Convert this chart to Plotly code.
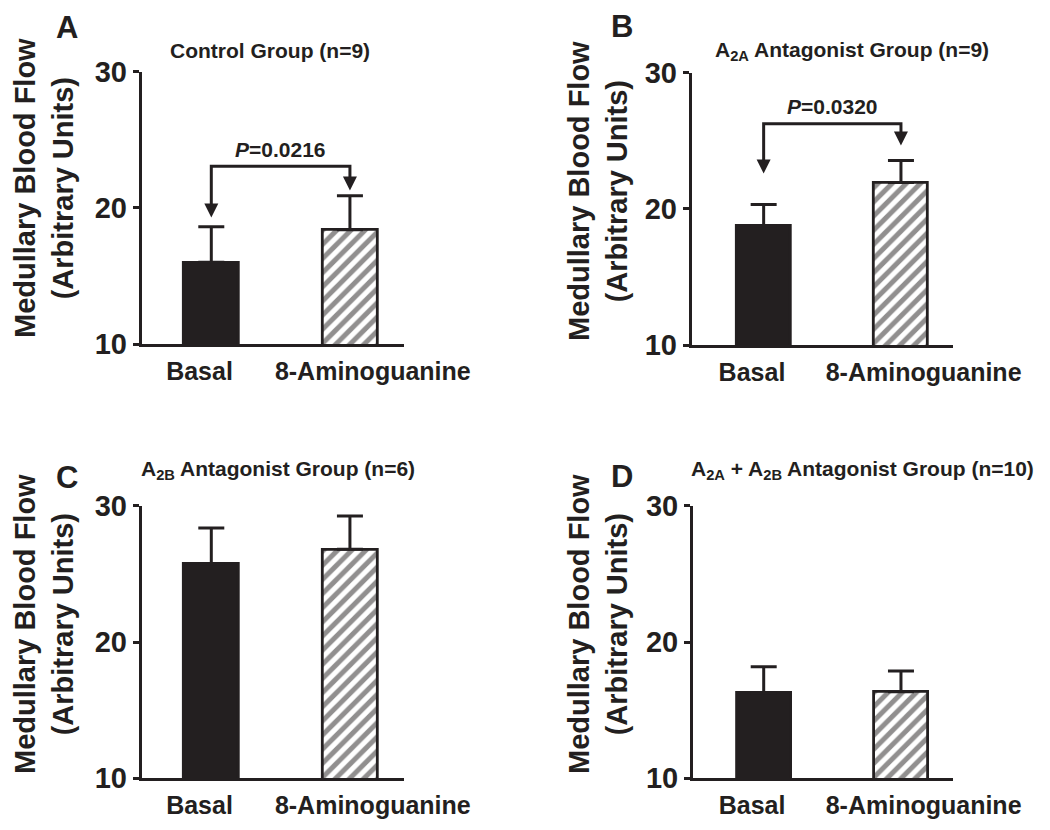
import plotly.graph_objects as go

# ---------------- data ----------------
categories = ["Basal", "8-Aminoguanine"]
panel_letters = ["A", "B", "C", "D"]
panel_titles = [
    "Control Group (n=9)",
    "A<sub>2A</sub> Antagonist Group (n=9)",
    "A<sub>2B</sub> Antagonist Group (n=6)",
    "A<sub>2A</sub> + A<sub>2B</sub> Antagonist Group (n=10)",
]
means_A = [16.0, 18.4]
sem_A = [2.62, 2.48]
means_B = [18.75, 21.93]
sem_B = [1.57, 1.62]
means_C = [25.72, 26.8]
sem_C = [2.64, 2.44]
means_D = [16.28, 16.35]
sem_D = [1.91, 1.52]
all_means = [means_A, means_B, means_C, means_D]
all_sems = [sem_A, sem_B, sem_C, sem_D]

# significance brackets (panels A and B only)
p_labels = ["<i>P</i>=0.0216", "<i>P</i>=0.0320", None, None]
bracket_level = [23.05, 26.25, None, None]
bracket_tip_basal = [19.3, 22.6, None, None]
bracket_tip_ag = [21.27, 24.65, None, None]

y_ticks = [10, 20, 30]
y_range = [10, 30]
y_title = "Medullary Blood Flow<br>(Arbitrary Units)"

# ---------------- layout geometry (pixels, in 1050x830 page coords) ----------------
PAGE_W, PAGE_H = 1050, 830
OFF = 8                      # default body margin of the html page
W, H = PAGE_W - 2 * OFF, PAGE_H - 2 * OFF
FONT = "Arial, Liberation Sans, sans-serif"
INK = "#231f20"


def px(x):
    return (x - OFF) / W


def py(y):
    return 1 - (y - OFF) / H


# x-domain px, x-range, y-domain px (top, bottom)
panels = [
    dict(xd=(141.7, 404.0), xr=(-0.502, 1.39), yd=(71.7, 344.0)),
    dict(xd=(691.7, 953.0), xr=(-0.524, 1.379), yd=(72.7, 345.0)),
    dict(xd=(141.7, 404.0), xr=(-0.502, 1.39), yd=(505.7, 778.3)),
    dict(xd=(693.0, 953.0), xr=(-0.515, 1.379), yd=(505.7, 778.3)),
]
label_shift = [-0.085, 0.165]   # tick labels sit slightly off the bar centres
letter_pos = [(67, 28), (622, 27), (67, 477), (622, 476)]
title_pos = [(270, 51), (852, 51), (278, 470), (862, 470)]
ytitle_pos = [(44, 188), (598, 191), (44, 624), (598, 624)]

fig = go.Figure()
annotations = []
xpos = list(range(len(categories)))
bar_styles = [
    dict(color=INK, pattern=dict(shape="")),
    dict(color="white", pattern=dict(shape="/", fgcolor=INK, bgcolor="white",
                                     size=10, solidity=0.5)),
]

for i in range(4):
    sfx = "" if i == 0 else str(i + 1)
    xa, ya = "x" + sfx, "y" + sfx
    means, sems = all_means[i], all_sems[i]

    # bars (one trace per category so each gets its own fill)
    for k in xpos:
        st = bar_styles[k]
        fig.add_trace(go.Bar(
            x=[xpos[k]], y=[means[k]], xaxis=xa, yaxis=ya, width=0.394,
            marker=dict(color=st["color"], line=dict(color=INK, width=2.8),
                        pattern=st["pattern"]),
            error_y=dict(type="data", array=[sems[k]], arrayminus=[0],
                         symmetric=False, color=INK, thickness=3, width=13),
            showlegend=False, hoverinfo="skip",
        ))

    p = panels[i]
    fig.layout["xaxis" + sfx] = dict(
        domain=[px(p["xd"][0]), px(p["xd"][1])], range=list(p["xr"]),
        anchor=ya, tickvals=[xpos[k] + label_shift[k] for k in xpos],
        ticktext=categories, ticks="", tickangle=0, automargin=False,
        showline=True, linewidth=3, linecolor=INK, showgrid=False, zeroline=False,
        tickfont=dict(family=FONT, size=25, color=INK, weight="bold"),
        ticklabelstandoff=3, fixedrange=True,
    )
    fig.layout["yaxis" + sfx] = dict(
        domain=[py(p["yd"][1]), py(p["yd"][0])], range=y_range,
        anchor=xa, tickvals=y_ticks, ticks="outside", ticklen=6, tickwidth=3,
        automargin=False,
        tickcolor=INK, showline=True, linewidth=3, linecolor=INK,
        showgrid=False, zeroline=False,
        tickfont=dict(family=FONT, size=29, color=INK, weight="bold"),
        fixedrange=True,
    )

    # panel letter
    lx, ly = letter_pos[i]
    annotations.append(dict(
        text=panel_letters[i], x=px(lx), y=py(ly), xref="paper", yref="paper",
        xanchor="center", yanchor="middle", showarrow=False,
        font=dict(family=FONT, size=31, color=INK, weight="bold"),
    ))
    # panel title
    tx, ty = title_pos[i]
    annotations.append(dict(
        text=panel_titles[i], x=px(tx), y=py(ty), xref="paper", yref="paper",
        xanchor="center", yanchor="middle", showarrow=False,
        font=dict(family=FONT, size=21, color=INK, weight="bold"),
    ))
    # y-axis title
    yx, yy = ytitle_pos[i]
    annotations.append(dict(
        text=y_title, x=px(yx), y=py(yy), xref="paper", yref="paper",
        xanchor="center", yanchor="middle", showarrow=False, textangle=-90,
        font=dict(family=FONT, size=29, color=INK, weight="bold"),
    ))

    # significance bracket
    if p_labels[i] is not None:
        lvl = bracket_level[i]
        tb, tg = bracket_tip_basal[i], bracket_tip_ag[i]
        fig.add_trace(go.Scatter(
            x=[xpos[0], xpos[0], xpos[1], xpos[1]],
            y=[tb + 0.6, lvl, lvl, tg + 0.6],
            xaxis=xa, yaxis=ya, mode="lines",
            line=dict(color=INK, width=3), showlegend=False, hoverinfo="skip",
        ))
        fig.add_trace(go.Scatter(
            x=[xpos[0], xpos[1]], y=[tb, tg], xaxis=xa, yaxis=ya, mode="markers",
            marker=dict(symbol="arrow-down", size=14, color=INK,
                        line=dict(width=0)),
            showlegend=False, hoverinfo="skip",
        ))
        annotations.append(dict(
            text=p_labels[i], x=(xpos[0] + xpos[1]) / 2, y=lvl, xref=xa, yref=ya,
            xanchor="center", yanchor="middle", yshift=17, showarrow=False,
            font=dict(family=FONT, size=21, color=INK, weight="bold"),
        ))

fig.update_layout(
    width=W, height=H, margin=dict(l=0, r=0, t=0, b=0, autoexpand=False),
    paper_bgcolor="white", plot_bgcolor="white", showlegend=False,
    bargap=0, annotations=annotations,
    font=dict(family=FONT, color=INK),
)

fig.write_html("out.html")
